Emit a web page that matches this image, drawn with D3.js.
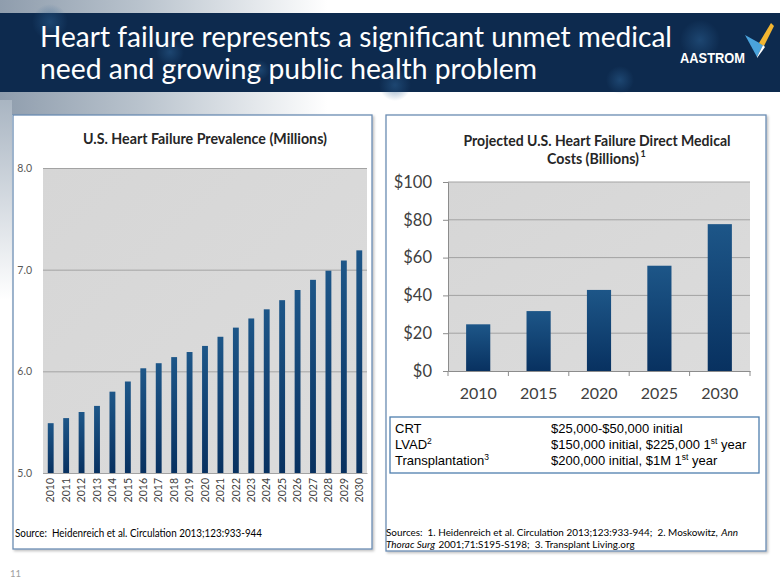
<!DOCTYPE html>
<html><head><meta charset="utf-8">
<script src="https://cdn.jsdelivr.net/npm/d3@7"></script>
<style>body{margin:0;background:#fff;} svg{display:block;}</style>
</head><body><svg id="c" width="780" height="585"></svg>
<script>
// ---------- data ----------
const slideTitle = ["Heart failure represents a significant unmet medical", "need and growing public health problem"];
const prevalenceTitle = "U.S. Heart Failure Prevalence (Millions)";
const prevalenceYears = ["2010","2011","2012","2013","2014","2015","2016","2017","2018","2019","2020","2021","2022","2023","2024","2025","2026","2027","2028","2029","2030"];
const prevalenceValues = [5.49,5.54,5.60,5.66,5.80,5.90,6.03,6.08,6.14,6.19,6.25,6.34,6.43,6.52,6.61,6.70,6.80,6.90,6.99,7.09,7.19];
const prevalenceTicks = [5.0,6.0,7.0,8.0];
const prevalenceSource = "Source:  Heidenreich et al. Circulation 2013;123:933-944";

const costTitle = ["Projected U.S. Heart Failure Direct Medical", "Costs (Billions)", "1"];
const costYears = ["2010","2015","2020","2025","2030"];
const costValues = [24.7,31.7,42.9,55.7,77.7];
const costTicks = [0,20,40,60,80,100];

const therapyNames = ["CRT","LVAD","Transplantation"];
const therapyNameSup = ["","2","3"];
const therapyCosts = [["$25,000-$50,000 initial"],["$150,000 initial, $225,000 1","st"," year"],["$200,000 initial, $1M 1","st"," year"]];

const costSources = [
  [["Sources:  1. Heidenreich et al. Circulation 2013;123:933-944;  2. Moskowitz,", false], ["Ann", true]],
  [["Thorac Surg", true], ["2001;71:S195-S198;  3. Transplant Living.org", false]]
];

const pageNumber = "11";

// ---------- drawing ----------
const svg = d3.select("#c");
const defs = svg.append("defs");
function squeeze(sel, w){ const l = sel.node().getComputedTextLength(); if (l > w) sel.attr("textLength", w).attr("lengthAdjust","spacingAndGlyphs"); return sel; }
function fitFont(sel, w){ const l = sel.node().getComputedTextLength(); const fs = parseFloat(sel.attr("font-size")); if (l > w) sel.attr("font-size", (fs*w/l).toFixed(2)); return sel; }

const g1 = defs.append("linearGradient").attr("id","topfade").attr("x1",0).attr("x2",1).attr("y1",0).attr("y2",0);
g1.append("stop").attr("offset",0).attr("stop-color","#8f9dad");
g1.append("stop").attr("offset",0.18).attr("stop-color","#b9c3cd");
g1.append("stop").attr("offset",0.42).attr("stop-color","#ffffff");
const g2 = defs.append("linearGradient").attr("id","leftfade").attr("x1",0).attr("x2",0).attr("y1",0).attr("y2",1);
g2.append("stop").attr("offset",0).attr("stop-color","#a9b5c2");
g2.append("stop").attr("offset",1).attr("stop-color","#ffffff");
const bg = defs.append("linearGradient").attr("id","bar").attr("x1",0).attr("x2",0).attr("y1",0).attr("y2",1);
bg.append("stop").attr("offset",0).attr("stop-color","#1d5688");
bg.append("stop").attr("offset",1).attr("stop-color","#083160");
const pg = defs.append("linearGradient").attr("id","plot").attr("x1",0).attr("x2",1).attr("y1",0).attr("y2",1);
pg.append("stop").attr("offset",0).attr("stop-color","#d6d6d6");
pg.append("stop").attr("offset",1).attr("stop-color","#dcdcdc");
const blob = defs.append("radialGradient").attr("id","blob");
blob.append("stop").attr("offset",0).attr("stop-color","#2a5d8e").attr("stop-opacity",0.55);
blob.append("stop").attr("offset",1).attr("stop-color","#2a5d8e").attr("stop-opacity",0);
const sh = defs.append("filter").attr("id","shadow").attr("x","-5%").attr("y","-5%").attr("width","110%").attr("height","110%");
sh.append("feDropShadow").attr("dx",1.5).attr("dy",1.5).attr("stdDeviation",1).attr("flood-color","#000").attr("flood-opacity",0.25);

svg.append("rect").attr("width",780).attr("height",585).attr("fill","#fff");
svg.append("rect").attr("x",0).attr("y",0).attr("width",780).attr("height",14).attr("fill","url(#topfade)");
svg.append("rect").attr("x",0).attr("y",91).attr("width",780).attr("height",24).attr("fill","url(#topfade)");
svg.append("rect").attr("x",0).attr("y",100).attr("width",12).attr("height",200).attr("fill","url(#leftfade)");

// header band
svg.append("rect").attr("x",0).attr("y",13).attr("width",780).attr("height",79).attr("fill","#0d2a4e");
[[50,22,18],[170,52,14],[395,85,16],[700,40,20],[620,80,14],[260,70,10]].forEach(b=>{
  svg.append("circle").attr("cx",b[0]).attr("cy",b[1]).attr("r",b[2]).attr("fill","url(#blob)");
});
slideTitle.forEach((t,i)=>{
  const s = svg.append("text").attr("x",40).attr("y",[47,79][i]).attr("fill","#fff")
    .attr("font-family","Lato, 'Open Sans', sans-serif").attr("font-size",29).text(t);
  squeeze(s, i===0 ? 632 : 497);
});
// logo
svg.append("text").attr("x",680).attr("y",63).attr("fill","#fff").attr("font-family","'Liberation Sans Narrow','Liberation Sans',Arial,sans-serif")
  .attr("font-weight","bold").attr("font-size",14).attr("textLength",65).attr("lengthAdjust","spacingAndGlyphs").text("AASTROM");
svg.append("polygon").attr("points","745,35 763,45 757,57").attr("fill","#4aa3dc");
svg.append("polygon").attr("points","771,23 774,26 764,46 759,43").attr("fill","#f2b531");
svg.append("polygon").attr("points","763,45 765,47 757,58 757,57").attr("fill","#fff");

// panels
svg.append("rect").attr("x",13).attr("y",115).attr("width",359).attr("height",434).attr("fill","#fff").attr("stroke","#6a8db3").attr("stroke-width",1.3).attr("filter","url(#shadow)");
svg.append("rect").attr("x",386).attr("y",115).attr("width",380).attr("height",436).attr("fill","#fff").attr("stroke","#6a8db3").attr("stroke-width",1.3).attr("filter","url(#shadow)");

const chartFont = "Lato, 'Open Sans', sans-serif";

// ---- left chart ----
const L = {x0:43, x1:367, y0:473, y1:168};
const xL = d3.scaleBand().domain(prevalenceYears).range([L.x0,L.x1]).paddingInner(0.62).paddingOuter(0.31);
const yL = d3.scaleLinear().domain([5,8]).range([L.y0,L.y1]);
svg.append("rect").attr("x",L.x0).attr("y",L.y1).attr("width",L.x1-L.x0).attr("height",L.y0-L.y1).attr("fill","url(#plot)");
const ayL = svg.append("g").attr("transform",`translate(${L.x0},0)`)
  .call(d3.axisLeft(yL).tickValues(prevalenceTicks).tickFormat(d3.format(".1f")).tickSize(-(L.x1-L.x0)).tickPadding(11));
ayL.select(".domain").remove();
ayL.selectAll("line").attr("stroke","#a3a3a3");
ayL.selectAll("text").attr("font-family",chartFont).attr("font-size",10.5).attr("fill","#595959");
svg.append("g").selectAll("rect").data(prevalenceValues).join("rect")
  .attr("x",(d,i)=>xL(prevalenceYears[i])).attr("width",xL.bandwidth())
  .attr("y",d=>yL(d)).attr("height",d=>yL(5)-yL(d)).attr("fill","url(#bar)");
const axL = svg.append("g").attr("transform",`translate(0,${L.y0})`).call(d3.axisBottom(xL).tickSize(0));
axL.select(".domain").attr("stroke","#a3a3a3");
axL.selectAll("text").attr("transform","rotate(-90)").attr("x",-5).attr("y",0).attr("dy","0.35em")
  .attr("text-anchor","end").attr("font-family",chartFont).attr("font-size",10.5).attr("fill","#404040");
squeeze(svg.append("text").attr("x",(L.x0+L.x1)/2).attr("y",144).attr("text-anchor","middle").attr("font-family",chartFont)
  .attr("font-weight","bold").attr("font-size",15.5).attr("fill","#262626").text(prevalenceTitle), 244);
squeeze(svg.append("text").attr("x",15).attr("y",537).attr("font-family",chartFont).attr("font-size",11).attr("fill","#000")
  .style("white-space","pre").text(prevalenceSource), 247);

// ---- right chart ----
const R = {x0:448, x1:750, y0:371, y1:182};
const xR = d3.scaleBand().domain(costYears).range([R.x0,R.x1]).paddingInner(0.6).paddingOuter(0.3);
const yR = d3.scaleLinear().domain([0,100]).range([R.y0,R.y1]);
svg.append("rect").attr("x",R.x0).attr("y",R.y1).attr("width",R.x1-R.x0).attr("height",R.y0-R.y1).attr("fill","url(#plot)");
svg.append("g").selectAll("line").data(costTicks.filter(d=>d>0)).join("line")
  .attr("x1",R.x0).attr("x2",R.x1).attr("y1",d=>yR(d)).attr("y2",d=>yR(d)).attr("stroke","#a3a3a3");
svg.append("g").selectAll("rect").data(costValues).join("rect")
  .attr("x",(d,i)=>xR(costYears[i])).attr("width",xR.bandwidth())
  .attr("y",d=>yR(d)).attr("height",d=>yR(0)-yR(d)).attr("fill","url(#bar)");
const ayR = svg.append("g").attr("transform",`translate(${R.x0},0)`)
  .call(d3.axisLeft(yR).tickValues(costTicks).tickFormat(d=>"$"+d).tickSize(5).tickPadding(11));
ayR.selectAll("line,.domain").attr("stroke","#8c8c8c");
ayR.selectAll("text").attr("font-family",chartFont).attr("font-size",16.5).attr("fill","#404040");
const axR = svg.append("g").attr("transform",`translate(0,${R.y0})`).call(d3.axisBottom(xR).tickSize(0).tickPadding(17));
axR.select(".domain").attr("stroke","#8c8c8c");
axR.selectAll("text").attr("font-family",chartFont).attr("font-size",16).attr("fill","#404040");
svg.append("g").selectAll("line").data(d3.range(costYears.length+1)).join("line")
  .attr("x1",i=>R.x0+i*xR.step()).attr("x2",i=>R.x0+i*xR.step()).attr("y1",R.y0).attr("y2",R.y0+5).attr("stroke","#8c8c8c");
squeeze(svg.append("text").attr("x",597).attr("y",146).attr("text-anchor","middle").attr("font-family",chartFont)
  .attr("font-weight","bold").attr("font-size",15.5).attr("fill","#262626").text(costTitle[0]), 267);
const ct2 = svg.append("text").attr("x",593).attr("y",164).attr("text-anchor","middle").attr("font-family",chartFont)
  .attr("font-weight","bold").attr("font-size",15.5).attr("fill","#262626").text(costTitle[1]);
fitFont(ct2, 92);
svg.append("text").attr("x",593 + ct2.node().getComputedTextLength()/2 + 1.5).attr("y",157).attr("font-family",chartFont)
  .attr("font-weight","bold").attr("font-size",9).attr("fill","#262626").text(costTitle[2]);

// table box
svg.append("rect").attr("x",390).attr("y",417).attr("width",369).attr("height",56).attr("fill","#fff").attr("stroke","#4f7fae").attr("stroke-width",1.3);
const tf = "'Liberation Sans', Arial, sans-serif";
therapyNames.forEach((n,i)=>{
  const y = 433 + i*16;
  const t = svg.append("text").attr("x",395).attr("y",y).attr("font-family",tf).attr("font-size",13).attr("fill","#000");
  t.append("tspan").text(n);
  if (therapyNameSup[i]) t.append("tspan").attr("dy",-5).attr("font-size",8.5).text(therapyNameSup[i]);
  const c = svg.append("text").attr("x",551).attr("y",y).attr("font-family",tf).attr("font-size",13).attr("fill","#000");
  const parts = therapyCosts[i];
  c.append("tspan").text(parts[0]);
  if (parts.length>1){
    c.append("tspan").attr("dy",-5).attr("font-size",8.5).text(parts[1]);
    c.append("tspan").attr("dy",5).text(parts[2]);
  }
});

// sources: each run its own text element; one font size fitted so line 1 spans the reference width
const srcTexts = costSources.map((line, li)=> line.map(run =>
  svg.append("text").attr("y",536 + li*12).attr("font-family",chartFont).attr("font-size",11)
    .attr("fill","#000").attr("font-style", run[1] ? "italic" : "normal").style("white-space","pre").text(run[0])));
const gap = 3.5;
const line1W = d3.sum(srcTexts[0], t=>t.node().getComputedTextLength()) + gap*(srcTexts[0].length-1);
const srcFs = Math.min(11, 11*352/line1W);
srcTexts.forEach(line=>{
  let x = 386;
  line.forEach(t=>{ t.attr("font-size",srcFs.toFixed(2)).attr("x",x); x += t.node().getComputedTextLength() + gap; });
});

svg.append("text").attr("x",10).attr("y",577).attr("font-family",chartFont).attr("font-size",9.5).attr("fill","#a0a0a0").text(pageNumber);
</script></body></html>
